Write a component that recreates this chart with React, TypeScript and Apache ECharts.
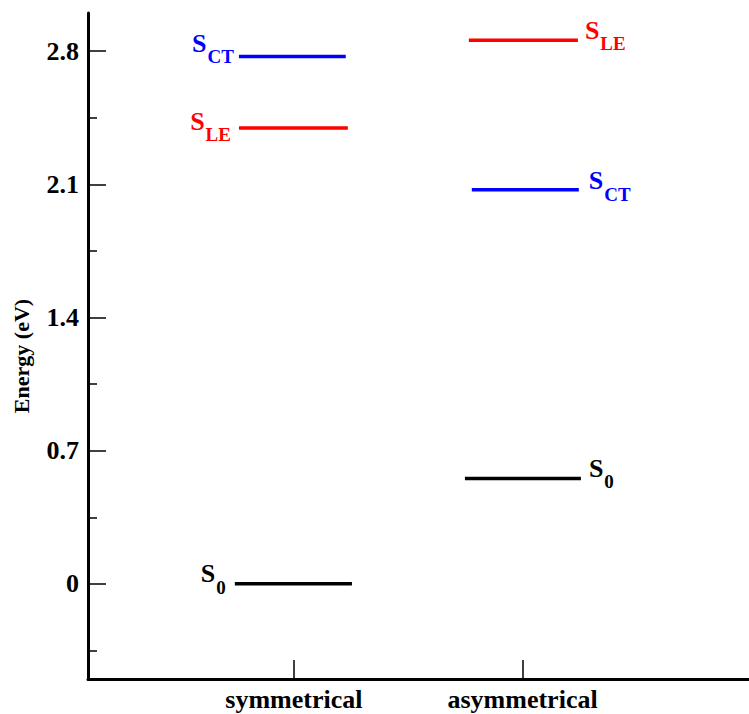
import React, { useEffect, useRef } from "react";
import * as echarts from "echarts";

// ---- data ----
const categories = ["symmetrical", "asymmetrical"];
const categoryX = [1, 2];
const stateSubs = ["CT", "LE", "0"];
const stateColors = ["#0000ff", "#ff0000", "#000000"];
const symEnergy = [2.772, 2.395, 0.0];
const asymEnergy = [2.071, 2.857, 0.554];
const symStart = [0.76, 0.76, 0.742];
const symEnd = [1.227, 1.236, 1.254];
const asymStart = [1.778, 1.765, 1.748];
const asymEnd = [2.246, 2.242, 2.255];
const yTicks = [0, 0.7, 1.4, 2.1, 2.8];
const yMinorTicks = [-0.35, 0.35, 1.05, 1.75, 2.45];

const FONT = "'Liberation Serif', 'Times New Roman', Times, serif";

// label style tweaks (styles, not data)
const symLabelDist = [5, 8, 9];
const symLabelDy = [-13, -7, -10];
const asymLabelDist = [10, 7, 8];
const asymLabelDy = [-9, -10, -10];

function richFor(color: string) {
  return {
    s: { fontSize: 26, lineHeight: 26, fontWeight: "bold", fontFamily: FONT, color, verticalAlign: "top" },
    sub: { fontSize: 19, lineHeight: 19, fontWeight: "bold", fontFamily: FONT, color, verticalAlign: "top", padding: [17, 0, 0, 1] },
  };
}

function buildSeries() {
  const series: any[] = [];
  const groups = [
    { energy: symEnergy, start: symStart, end: symEnd, side: "left", dist: symLabelDist, dy: symLabelDy },
    { energy: asymEnergy, start: asymStart, end: asymEnd, side: "right", dist: asymLabelDist, dy: asymLabelDy },
  ];
  groups.forEach((g, gi) => {
    g.energy.forEach((e, i) => {
      const color = stateColors[i];
      const label = {
        show: true,
        position: g.side,
        distance: g.dist[i],
        offset: [0, g.dy[i]],
        formatter: "{s|S}{sub|" + stateSubs[i] + "}",
        rich: richFor(color),
      };
      const p0: any = { value: [g.start[i], e] };
      const p1: any = { value: [g.end[i], e] };
      if (g.side === "left") p0.label = label;
      else p1.label = label;
      series.push({
        type: "line",
        name: categories[gi] + "-S" + stateSubs[i],
        xAxisIndex: 0,
        yAxisIndex: 0,
        data: [p0, p1],
        symbol: "circle",
        symbolSize: 0,
        itemStyle: { color },
        label: { show: false },
        lineStyle: { color, width: 3.5 },
        silent: true,
      });
    });
  });
  return series;
}

export default function App() {
  const ref = useRef<HTMLDivElement>(null);
  useEffect(() => {
    if (!ref.current) return;
    const chart = echarts.init(ref.current, undefined, { renderer: "svg" });
    chart.setOption({
      animation: false,
      backgroundColor: "#ffffff",
      grid: { left: 88, right: 0, top: 13, bottom: 35, containLabel: false, outerBoundsMode: "none" },
      xAxis: [
        {
          type: "value",
          min: 0.1,
          max: 2.99,
          axisLine: { show: true, onZero: false, lineStyle: { color: "#000", width: 3 } },
          axisTick: { show: true, inside: true, length: 19, customValues: categoryX, lineStyle: { color: "#000", width: 1.5 } },
          axisLabel: {
            show: true,
            customValues: categoryX,
            formatter: (v: number) => categories[categoryX.indexOf(v)] ?? "",
            color: "#000",
            fontFamily: FONT,
            fontWeight: "bold",
            fontSize: 26,
            margin: 7,
          },
          splitLine: { show: false },
        },
      ],
      yAxis: [
        {
          type: "value",
          min: -0.5,
          max: 3.0,
          name: "Energy (eV)",
          nameLocation: "middle",
          nameGap: 56,
          nameTextStyle: { color: "#000", fontFamily: FONT, fontWeight: "bold", fontSize: 22, padding: [0, 20, 0, 0] },
          axisLine: { show: true, onZero: false, lineStyle: { color: "#000", width: 3 } },
          axisTick: { show: true, inside: true, length: 18, customValues: yTicks, lineStyle: { color: "#000", width: 1.5 } },
          axisLabel: {
            show: true,
            customValues: yTicks,
            formatter: (v: number) => (v === 0 ? "0" : v.toFixed(1)),
            color: "#000",
            fontFamily: FONT,
            fontWeight: "bold",
            fontSize: 26,
            margin: 9,
          },
          splitLine: { show: false },
        },
        {
          type: "value",
          min: -0.5,
          max: 3.0,
          position: "left",
          axisLine: { show: false, onZero: false },
          axisTick: { show: true, inside: true, length: 9, customValues: yMinorTicks, lineStyle: { color: "#000", width: 1.5 } },
          axisLabel: { show: false },
          splitLine: { show: false },
        },
      ],
      series: buildSeries(),
    });
    return () => chart.dispose();
  }, []);
  return (
    <div
      ref={ref}
      style={{ position: "fixed", left: 0, top: 0, width: 749, height: 714, background: "#fff" }}
    />
  );
}
